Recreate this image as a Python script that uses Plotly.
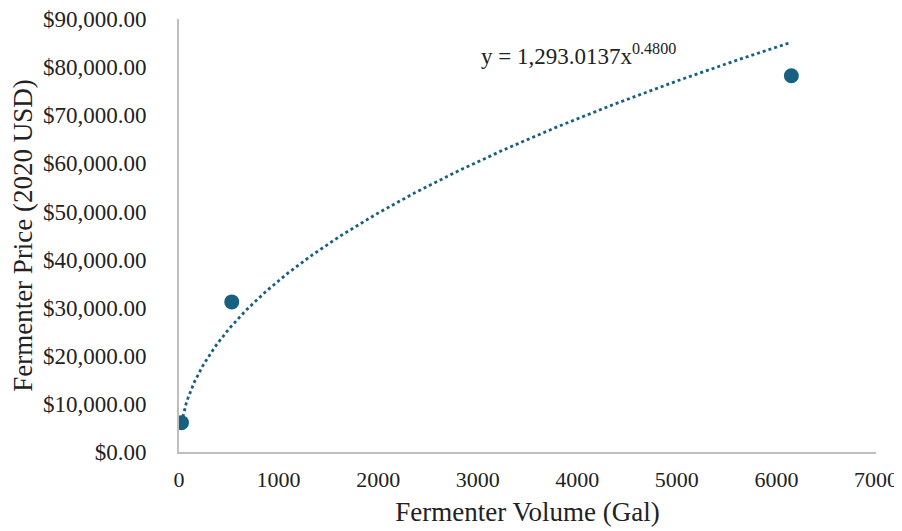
import numpy as np
import plotly.graph_objects as go

# Data
volume_gal = [25, 530, 6150]
price_usd = [6100, 31200, 78200]

# Power trendline coefficients (from the chart's equation)
coef_a = 1293.0137
coef_b = 0.4800
equation_text = "y = 1,293.0137x<sup>0.4800</sup>"

x_tick_vals = [0, 1000, 2000, 3000, 4000, 5000, 6000, 7000]
y_tick_vals = [0, 10000, 20000, 30000, 40000, 50000, 60000, 70000, 80000, 90000]

color = "#17607F"
text_color = "#222222"
font_family = "Liberation Serif, Times New Roman, serif"

trend_x = np.linspace(min(volume_gal), max(volume_gal), 400)
trend_y = coef_a * trend_x ** coef_b

fig = go.Figure()
fig.add_trace(go.Scatter(x=trend_x, y=trend_y, mode="lines",
                         line=dict(color=color, width=2.8, dash="dot"),
                         showlegend=False, hoverinfo="skip"))
fig.add_trace(go.Scatter(x=volume_gal, y=price_usd, mode="markers",
                         marker=dict(color=color, size=15),
                         showlegend=False))

fig.add_annotation(x=3010, y=82700, xref="x", yref="y", text=equation_text,
                   showarrow=False, xanchor="left", yanchor="middle",
                   font=dict(family=font_family, size=23, color=text_color))

# page has an 8px body margin, so the figure is offset by 8px
fig.update_layout(
    width=894, height=523,
    margin=dict(l=171, r=26, t=11, b=79),
    paper_bgcolor="white", plot_bgcolor="white",
    font=dict(family=font_family, size=23, color=text_color),
    xaxis=dict(range=[0, 7000], tickvals=x_tick_vals, showgrid=False, zeroline=False,
               showline=True, linecolor="#BFBFBF", linewidth=2, ticks="",
               tickfont=dict(size=22),
               ticklabelstandoff=7, automargin=False, ticklabeloverflow="allow",
               title=dict(text="Fermenter Volume (Gal)", font=dict(size=27), standoff=11)),
    yaxis=dict(range=[0, 90000], tickvals=y_tick_vals, tickformat="$,.2f",
               showgrid=False, zeroline=False, automargin=False,
               showline=True, linecolor="#BFBFBF", linewidth=2, ticks="",
               ticklabelstandoff=26, ticklabeloverflow="allow",
               title=dict(text="Fermenter Price (2020 USD)", font=dict(size=27), standoff=4)),
)

fig.write_html("out.html")
